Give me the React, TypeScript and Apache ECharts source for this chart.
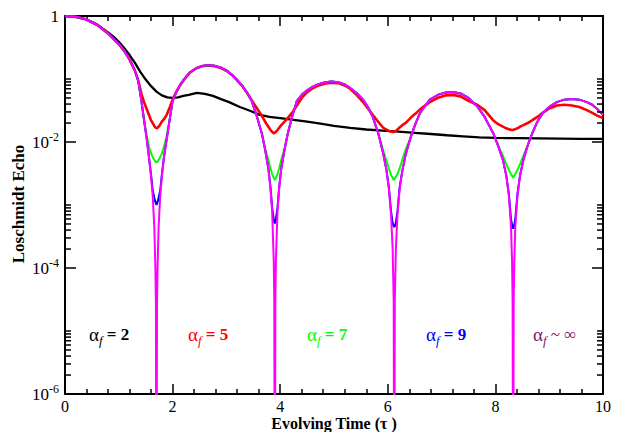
import React, { useEffect, useRef } from "react";
import * as echarts from "echarts";

// Shared time grid (tau) for the alpha_f = 5, 7, 9 and infinity curves
const tGrid = [
  0, 0.2, 0.4, 0.6, 0.8, 1.0, 1.1, 1.2, 1.3, 1.36,
  1.42, 1.47, 1.52, 1.56, 1.6, 1.63, 1.66, 1.68, 1.69, 1.7,
  1.71, 1.72, 1.74, 1.77, 1.8, 1.84, 1.89, 1.95, 2.0, 2.07,
  2.14, 2.22, 2.32, 2.44, 2.55, 2.66, 2.78, 2.9, 3.0, 3.1,
  3.2, 3.3, 3.38, 3.47, 3.57, 3.66, 3.72, 3.78, 3.82, 3.85,
  3.88, 3.89, 3.9, 3.91, 3.92, 3.95, 3.98, 4.02, 4.08, 4.14,
  4.22, 4.31, 4.4, 4.5, 4.6, 4.7, 4.82, 4.95, 5.08, 5.2,
  5.3, 5.42, 5.54, 5.63, 5.72, 5.82, 5.91, 5.97, 6.02, 6.06,
  6.09, 6.11, 6.12, 6.13, 6.15, 6.18, 6.22, 6.27, 6.33, 6.42,
  6.51, 6.6, 6.78, 6.95, 7.08, 7.21, 7.35, 7.5, 7.66, 7.8,
  7.96, 8.06, 8.14, 8.2, 8.25, 8.29, 8.31, 8.32, 8.33, 8.34,
  8.35, 8.37, 8.41, 8.46, 8.52, 8.6, 8.68, 8.78, 8.88, 9.0,
  9.14, 9.28, 9.42, 9.56, 9.7, 9.8, 9.9, 10.0,
];

// alpha_f ~ infinity (magenta)
const echoInf = [
  1, 0.97, 0.88, 0.72, 0.53, 0.36, 0.28, 0.205, 0.135, 0.095,
  0.045, 0.022, 0.011, 0.0058, 0.0028, 0.0014, 4.5e-4, 1e-4, 2.5e-5, 1e-9,
  2.5e-5, 1e-4, 4.5e-4, 0.0014, 0.0028, 0.0058, 0.011, 0.024, 0.045, 0.062,
  0.08, 0.1, 0.126, 0.148, 0.161, 0.166, 0.162, 0.151, 0.137, 0.118,
  0.097, 0.077, 0.061, 0.045, 0.025, 0.0135, 0.0075, 0.0038, 0.0018, 8e-4,
  1.3e-4, 3e-5, 1e-9, 3e-5, 1.3e-4, 8e-4, 0.0018, 0.0038, 0.0075, 0.0135,
  0.025, 0.045, 0.056, 0.066, 0.075, 0.082, 0.088, 0.091, 0.089, 0.082,
  0.072, 0.06, 0.047, 0.036, 0.025, 0.014, 0.0068, 0.0038, 0.0018, 7e-4,
  2e-4, 3e-5, 1e-9, 3e-5, 2e-4, 7e-4, 0.0018, 0.0035, 0.0062, 0.0115,
  0.019, 0.029, 0.047, 0.057, 0.061, 0.062, 0.059, 0.05, 0.037, 0.025,
  0.0138, 0.0082, 0.0052, 0.003, 0.0014, 4.5e-4, 1.2e-4, 3e-5, 1e-9, 3e-5,
  1.2e-4, 4.5e-4, 0.0014, 0.003, 0.0052, 0.0088, 0.0135, 0.021, 0.029, 0.036,
  0.043, 0.047, 0.048, 0.047, 0.043, 0.039, 0.033, 0.027,
];

// alpha_f = 9 (blue)
const echo9 = [
  1, 0.97, 0.88, 0.72, 0.53, 0.36, 0.28, 0.205, 0.135, 0.095,
  0.045, 0.022, 0.011, 0.0058, 0.003, 0.0017, 0.0013, 0.00112, 0.00105, 0.001,
  0.00105, 0.00112, 0.0013, 0.0017, 0.003, 0.0058, 0.011, 0.024, 0.045, 0.062,
  0.08, 0.1, 0.126, 0.148, 0.161, 0.166, 0.162, 0.151, 0.137, 0.118,
  0.097, 0.077, 0.061, 0.045, 0.025, 0.0135, 0.0075, 0.0038, 0.0019, 9e-4,
  6e-4, 5.4e-4, 5.1e-4, 5.4e-4, 6e-4, 9e-4, 0.0019, 0.0038, 0.0075, 0.0135,
  0.025, 0.045, 0.056, 0.066, 0.075, 0.082, 0.088, 0.091, 0.089, 0.082,
  0.072, 0.06, 0.047, 0.036, 0.025, 0.014, 0.0068, 0.0038, 0.0019, 8e-4,
  5.2e-4, 4.6e-4, 4.5e-4, 4.6e-4, 5.2e-4, 8e-4, 0.0019, 0.0035, 0.0062, 0.0115,
  0.019, 0.029, 0.047, 0.057, 0.061, 0.062, 0.059, 0.05, 0.037, 0.025,
  0.0138, 0.0082, 0.0052, 0.003, 0.0015, 6e-4, 4.8e-4, 4.4e-4, 4.2e-4, 4.4e-4,
  4.8e-4, 6e-4, 0.0015, 0.003, 0.0052, 0.0088, 0.0135, 0.021, 0.029, 0.036,
  0.043, 0.047, 0.048, 0.047, 0.043, 0.039, 0.033, 0.027,
];

// alpha_f = 7 (green)
const echo7 = [
  1, 0.97, 0.88, 0.72, 0.53, 0.36, 0.28, 0.205, 0.135, 0.095,
  0.045, 0.022, 0.0125, 0.0085, 0.0066, 0.0058, 0.0052, 0.0049, 0.0048, 0.0047,
  0.0048, 0.0049, 0.0052, 0.0058, 0.0066, 0.0085, 0.0125, 0.024, 0.045, 0.062,
  0.08, 0.1, 0.126, 0.148, 0.161, 0.166, 0.162, 0.151, 0.137, 0.118,
  0.097, 0.077, 0.061, 0.045, 0.025, 0.0135, 0.0078, 0.0052, 0.0038, 0.0031,
  0.0027, 0.0026, 0.0025, 0.0026, 0.0027, 0.0031, 0.0038, 0.0052, 0.0078, 0.0135,
  0.025, 0.045, 0.056, 0.066, 0.075, 0.082, 0.088, 0.091, 0.089, 0.082,
  0.072, 0.06, 0.047, 0.036, 0.025, 0.014, 0.0075, 0.0052, 0.0038, 0.003,
  0.0027, 0.0025, 0.0025, 0.0026, 0.0028, 0.0031, 0.0038, 0.0052, 0.0075, 0.0115,
  0.019, 0.029, 0.047, 0.057, 0.061, 0.062, 0.059, 0.05, 0.037, 0.025,
  0.0138, 0.0085, 0.006, 0.0045, 0.0036, 0.0031, 0.0029, 0.0028, 0.0027, 0.0028,
  0.0029, 0.0031, 0.0036, 0.0045, 0.006, 0.0088, 0.0135, 0.021, 0.029, 0.036,
  0.043, 0.047, 0.048, 0.047, 0.043, 0.039, 0.033, 0.027,
];

// alpha_f = 5 (red)
const echo5 = [
  1, 0.97, 0.88, 0.72, 0.53, 0.36, 0.28, 0.205, 0.135, 0.095,
  0.058, 0.043, 0.033, 0.027, 0.022, 0.02, 0.018, 0.017, 0.0168, 0.0166,
  0.0166, 0.0168, 0.0175, 0.019, 0.021, 0.023, 0.027, 0.036, 0.047, 0.063,
  0.08, 0.1, 0.126, 0.148, 0.16, 0.164, 0.16, 0.149, 0.135, 0.116,
  0.095, 0.076, 0.061, 0.046, 0.034, 0.026, 0.021, 0.0175, 0.0155, 0.0145,
  0.0138, 0.0139, 0.014, 0.0142, 0.0145, 0.0155, 0.0168, 0.0185, 0.021, 0.024,
  0.029, 0.038, 0.05, 0.062, 0.071, 0.078, 0.084, 0.087, 0.086, 0.079,
  0.07, 0.056, 0.043, 0.034, 0.027, 0.021, 0.017, 0.0158, 0.015, 0.0147,
  0.0145, 0.0145, 0.0146, 0.0147, 0.015, 0.0158, 0.017, 0.0185, 0.02, 0.024,
  0.028, 0.033, 0.043, 0.051, 0.055, 0.056, 0.053, 0.045, 0.039, 0.032,
  0.022, 0.019, 0.0175, 0.0165, 0.016, 0.0156, 0.0155, 0.0155, 0.0156, 0.0157,
  0.0158, 0.016, 0.0165, 0.0175, 0.0185, 0.02, 0.022, 0.025, 0.029, 0.034,
  0.038, 0.039, 0.038, 0.036, 0.032, 0.029, 0.026, 0.024,
];

// alpha_f = 2 (black)
const tBlack = [
  0, 0.2, 0.4, 0.6, 0.8, 0.9, 1.0, 1.1, 1.2, 1.3,
  1.4, 1.5, 1.6, 1.7, 1.8, 1.9, 2.0, 2.1, 2.2, 2.3,
  2.45, 2.6, 2.75, 2.9, 3.05, 3.25, 3.45, 3.62, 3.8, 4.0,
  4.25, 4.5, 4.75, 5.0, 5.3, 5.6, 5.9, 6.2, 6.5, 6.8,
  7.1, 7.4, 7.7, 8.0, 8.4, 8.8, 9.2, 9.6, 10.0,
];
const echo2 = [
  1, 0.97, 0.88, 0.73, 0.55, 0.47, 0.39, 0.31, 0.24, 0.18,
  0.13, 0.098, 0.077, 0.063, 0.055, 0.051, 0.05, 0.051, 0.054, 0.056,
  0.06, 0.058, 0.054, 0.048, 0.043, 0.036, 0.031, 0.027, 0.025, 0.024,
  0.0225, 0.021, 0.0195, 0.018, 0.0167, 0.0158, 0.0152, 0.0146, 0.014, 0.0134,
  0.0128, 0.0123, 0.0118, 0.0116, 0.0115, 0.0114, 0.0113, 0.0112, 0.0112,
];

// Minor tick positions on the log axis
const yMinorTicks = [
  2e-6, 3e-6, 4e-6, 5e-6, 6e-6, 7e-6, 8e-6, 9e-6, 1e-5,
  2e-4, 3e-4, 4e-4, 5e-4, 6e-4, 7e-4, 8e-4, 9e-4, 1e-3,
  2e-2, 3e-2, 4e-2, 5e-2, 6e-2, 7e-2, 8e-2, 9e-2, 1e-1,
];

const curveNames = ["2", "5", "7", "9", "∞"];
const curveColors = ["#000000", "#ff0000", "#00ff00", "#0000ff", "#7a2166"];

const SERIF = "Liberation Serif, DejaVu Serif, serif";

const zip = (t: number[], v: number[]) => t.map((x, i) => [x, v[i]]);

export default function App() {
  const ref = useRef<HTMLDivElement>(null);

  useEffect(() => {
    document.body.style.margin = "0";
    if (!ref.current) return;
    const chart = echarts.init(ref.current, null, { renderer: "svg" });

    const lineSeries = (name: string, data: number[][], color: string, width: number, z: number) => ({
      name,
      type: "line",
      data,
      symbol: "none",
      showSymbol: false,
      clip: true,
      smooth: false,
      lineStyle: { color, width },
      z,
      silent: true,
    });

    const labelX = [89, 188, 307, 426, 533];
    const graphicLabels = curveNames.map((n, i) => ({
      type: "text",
      x: labelX[i],
      y: 334,
      z: 100,
      style: {
        text: i === 4 ? `{a|α}{f|f}{c| ~ ∞}` : `{a|α}{f|f}{b| = ${n}}`,
        fill: curveColors[i],
        align: "left",
        verticalAlign: "middle",
        rich: {
          a: { fontFamily: SERIF, fontSize: 19, fill: curveColors[i] },
          f: { fontFamily: SERIF, fontSize: 13, fontStyle: "italic", fill: curveColors[i], padding: [12, 0, 0, 0] },
          b: { fontFamily: SERIF, fontSize: 17, fontWeight: "bold", fill: curveColors[i] },
          c: { fontFamily: SERIF, fontSize: 17, fill: curveColors[i] },
        },
      },
    }));

    const option: any = {
      animation: false,
      backgroundColor: "#ffffff",
      grid: { left: 65, right: 15, top: 16, bottom: 38, containLabel: false },
      xAxis: [
        {
          type: "value",
          min: 0,
          max: 10,
          interval: 2,
          axisLine: { show: true, onZero: false, lineStyle: { color: "#000", width: 2 } },
          axisTick: { show: true, inside: true, length: 10, lineStyle: { color: "#000", width: 1.5 } },
          minorTick: { show: true, splitNumber: 5, length: 5, lineStyle: { color: "#000", width: 1.5 } },
          splitLine: { show: false },
          axisLabel: { show: true, color: "#000", fontFamily: SERIF, fontSize: 16, margin: 4 },
        },
        {
          type: "value",
          position: "top",
          min: 0,
          max: 10,
          interval: 2,
          axisLine: { show: true, onZero: false, lineStyle: { color: "#000", width: 2 } },
          axisTick: { show: true, inside: true, length: 10, lineStyle: { color: "#000", width: 1.5 } },
          minorTick: { show: true, splitNumber: 5, length: 5, lineStyle: { color: "#000", width: 1.5 } },
          splitLine: { show: false },
          axisLabel: { show: false },
        },
      ],
      yAxis: [
        {
          type: "log",
          logBase: 100,
          min: 1e-6,
          max: 1,
          axisLine: { show: true, onZero: false, lineStyle: { color: "#000", width: 2 } },
          axisTick: { show: true, inside: true, length: 11, lineStyle: { color: "#000", width: 1.5 } },
          minorTick: { show: false },
          splitLine: { show: false },
          axisLabel: {
            show: true,
            margin: 6,
            formatter: (v: number) => {
              const e = Math.round(Math.log10(v));
              return e === 0 ? "{n|1}" : `{n|10}{s|${e}}`;
            },
            rich: {
              n: { fontFamily: SERIF, fontSize: 17, color: "#000" },
              s: { fontFamily: SERIF, fontSize: 12, color: "#000", padding: [0, 0, 10, 0] },
            },
          },
        },
        {
          type: "log",
          logBase: 100,
          position: "right",
          min: 1e-6,
          max: 1,
          axisLine: { show: true, onZero: false, lineStyle: { color: "#000", width: 2 } },
          axisTick: { show: true, inside: true, length: 11, lineStyle: { color: "#000", width: 1.5 } },
          splitLine: { show: false },
          axisLabel: { show: false },
        },
      ],
      series: [
        lineSeries("α_f = 2", zip(tBlack, echo2), "#000000", 2.3, 2),
        lineSeries("α_f = 5", zip(tGrid, echo5), "#ff0000", 2.6, 3),
        lineSeries("α_f = 7", zip(tGrid, echo7), "#00ff00", 2, 4),
        lineSeries("α_f = 9", zip(tGrid, echo9), "#0000ff", 2, 5),
        lineSeries("α_f ~ ∞", zip(tGrid, echoInf), "#ff00ff", 2, 6),
        {
          type: "custom",
          silent: true,
          clip: false,
          z: 20,
          data: yMinorTicks.map((v) => [0, v]),
          renderItem: (_p: any, api: any) => {
            const v = api.value(1);
            const pL = api.coord([0, v]);
            const pR = api.coord([10, v]);
            return {
              type: "group",
              children: [
                { type: "line", shape: { x1: pL[0], y1: pL[1], x2: pL[0] + 6, y2: pL[1] }, style: { stroke: "#000", lineWidth: 1.5 } },
                { type: "line", shape: { x1: pR[0] - 6, y1: pR[1], x2: pR[0], y2: pR[1] }, style: { stroke: "#000", lineWidth: 1.5 } },
              ],
            };
          },
        },
      ],
      graphic: [
        ...graphicLabels,
        {
          type: "text",
          x: 18,
          y: 204,
          rotation: Math.PI / 2,
          style: {
            text: "Loschmidt Echo",
            fill: "#000",
            align: "center",
            verticalAlign: "middle",
            font: `bold 17px ${SERIF}`,
          },
        },
        {
          type: "text",
          x: 334,
          y: 423.5,
          style: {
            text: "Evolving Time (τ )",
            fill: "#000",
            align: "center",
            verticalAlign: "middle",
            font: `bold 16px ${SERIF}`,
          },
        },
      ],
    };

    chart.setOption(option);
    return () => chart.dispose();
  }, []);

  return <div ref={ref} style={{ width: 618, height: 432 }} />;
}
